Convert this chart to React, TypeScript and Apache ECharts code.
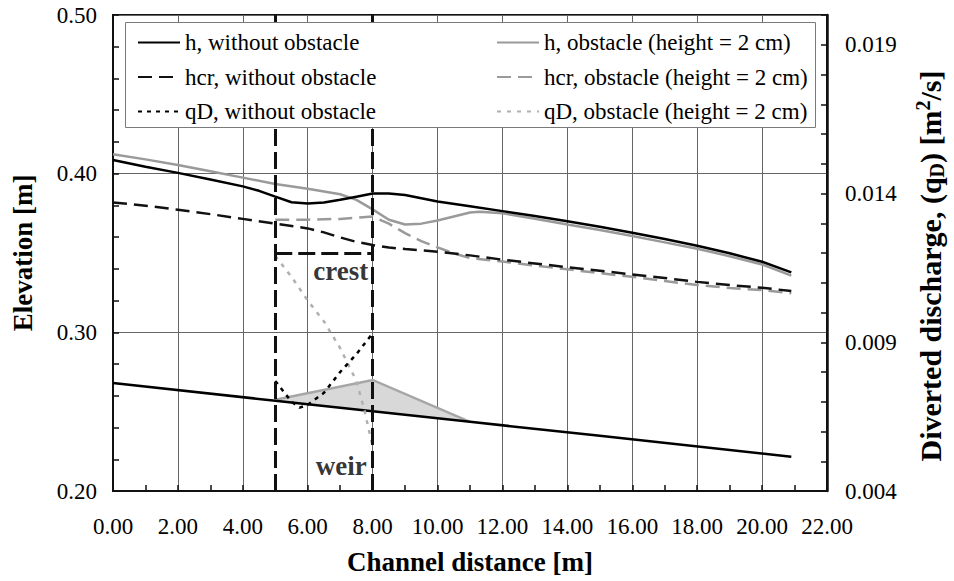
import React, { useEffect, useRef } from 'react';
import * as echarts from 'echarts';

const FONT = "'Liberation Serif', serif";

// Axis ranges
const distRange = [0, 22];
const elevRange = [0.2, 0.5];
const qRange = [0.004, 0.02];
const qLabelValues = [0.004, 0.009, 0.014, 0.019];

// Series names
const names = [
  'h, without obstacle',
  'hcr, without obstacle',
  'qD, without obstacle',
  'h, obstacle (height = 2 cm)',
  'hcr, obstacle (height = 2 cm)',
  'qD, obstacle (height = 2 cm)',
];

// Water level without obstacle
const hNoX = [0, 1, 2, 3, 4, 4.5, 5, 5.5, 6, 6.5, 7, 7.5, 8, 8.5, 9, 10, 11, 12, 13, 14, 15, 16, 17, 18, 19, 20, 20.9];
const hNoY = [0.4086, 0.4043, 0.4005, 0.3963, 0.392, 0.3892, 0.3855, 0.382, 0.3812, 0.3818, 0.3835, 0.3855, 0.3875, 0.3875, 0.3865, 0.3825, 0.3795, 0.3764, 0.3733, 0.370, 0.3665, 0.3628, 0.3588, 0.3546, 0.3498, 0.3445, 0.3378];

// Water level with obstacle
const hObsX = [0, 1, 2, 3, 4, 5, 6, 7, 7.5, 8, 8.5, 9, 9.5, 10, 10.5, 11, 11.3, 12, 13, 14, 15, 16, 17, 18, 19, 20, 20.9];
const hObsY = [0.4123, 0.409, 0.4055, 0.4015, 0.3975, 0.3935, 0.3905, 0.387, 0.3835, 0.3775, 0.371, 0.368, 0.3685, 0.3705, 0.373, 0.3755, 0.376, 0.375, 0.3716, 0.368, 0.3645, 0.3607, 0.3567, 0.3527, 0.348, 0.3428, 0.3357];

// Critical depth without obstacle
const hcrNoX = [0, 1, 2, 3, 4, 5, 6, 6.5, 7, 7.5, 8, 8.5, 9, 10, 11, 12, 13, 14, 15, 16, 17, 18, 19, 20, 20.9];
const hcrNoY = [0.3819, 0.3798, 0.3773, 0.3745, 0.3715, 0.3685, 0.3655, 0.363, 0.3598, 0.357, 0.355, 0.3535, 0.3525, 0.3508, 0.3485, 0.3458, 0.3434, 0.341, 0.3388, 0.3365, 0.3342, 0.3318, 0.3298, 0.3281, 0.326];

// Critical depth with obstacle
const hcrObsX = [5, 6, 7, 7.5, 8, 8.5, 9, 9.5, 10, 10.5, 11, 12, 13, 14, 15, 16, 17, 18, 19, 20, 20.9];
const hcrObsY = [0.371, 0.371, 0.3715, 0.3722, 0.373, 0.3685, 0.3625, 0.3575, 0.3535, 0.3498, 0.3468, 0.3446, 0.3421, 0.3397, 0.3373, 0.335, 0.3323, 0.3298, 0.328, 0.3266, 0.3246];

// Diverted discharge (right axis)
const qdNoX = [5, 5.5, 5.75, 6, 6.5, 7, 7.5, 8];
const qdNoY = [0.0077, 0.007, 0.0068, 0.0069, 0.0073, 0.008, 0.0086, 0.0093];
const qdObsX = [5, 5.5, 6, 6.5, 7, 7.5, 7.75, 8];
const qdObsY = [0.0119, 0.0112, 0.0104, 0.0097, 0.0088, 0.0077, 0.0067, 0.0055];

// Channel bed
const bedX = [0, 5, 8, 11, 15, 20.9];
const bedY = [0.268, 0.2569, 0.2502, 0.2436, 0.2348, 0.2216];

// Weir (obstacle)
const weirX = [5, 8, 11];
const weirTop = [0.2575, 0.27, 0.2436];
const weirBase = [0.2569, 0.2502, 0.2436];

// Crest box
const crestX = [5, 8];
const crestLevel = 0.35;

// Annotations
const noteText = ['crest', 'weir'];
const noteX = [7.02, 7.03];
const noteY = [0.3386, 0.2158];

const zip = (xs: number[], ys: number[]) => xs.map((x, i) => [x, ys[i]]);

const GRAY = '#9a9a9a';
const LIGHT = '#b0b0b0';

export default function App() {
  const ref = useRef<HTMLDivElement>(null);

  useEffect(() => {
    if (!ref.current) return;
    const chart = echarts.init(ref.current, undefined, { renderer: 'svg' });

    const lineBase = (name: string, xs: number[], ys: number[], color: string, type: any, width: number, yAxisIndex = 0, z = 2) => ({
      name,
      type: 'line',
      yAxisIndex,
      data: zip(xs, ys),
      symbol: 'none',
      showSymbol: false,
      z,
      lineStyle: { color, width, type },
      itemStyle: { color },
    });

    const legendCommon = {
      orient: 'vertical',
      top: 31,
      padding: 0,
      itemGap: 11.5,
      itemWidth: 42,
      itemHeight: 14,
      z: 20,
      itemStyle: { color: 'transparent', borderColor: 'transparent', borderWidth: 0, opacity: 0 },
      textStyle: { fontFamily: FONT, fontSize: 23, color: '#000' },
    };

    const option: any = {
      animation: false,
      backgroundColor: '#fff',
      textStyle: { fontFamily: FONT },
      grid: {
        left: 113,
        right: 127,
        top: 15,
        bottom: 90,
        show: true,
        borderColor: '#111',
        borderWidth: 2,
        backgroundColor: 'transparent',
      },
      legend: [
        { ...legendCommon, data: names.slice(0, 3), left: 137 },
        { ...legendCommon, data: names.slice(3, 6), left: 496 },
      ],
      graphic: [
        {
          type: 'rect',
          z: 10,
          shape: { x: 125.5, y: 22.5, width: 690, height: 105 },
          style: { fill: '#fff', stroke: '#7a7a7a', lineWidth: 1 },
        },
        {
          type: 'text',
          z: 10,
          x: 930,
          y: 266,
          rotation: Math.PI / 2,
          style: {
            text: '{b|Diverted discharge, (q}{s|D}{b|) [m}{p|2}{b|/s]}',
            align: 'center',
            verticalAlign: 'middle',
            fill: '#000',
            rich: {
              b: { fontFamily: FONT, fontSize: 30, fontWeight: 'bold', fill: '#000', lineHeight: 34 },
              s: { fontFamily: FONT, fontSize: 20, fontWeight: 'bold', fill: '#000', verticalAlign: 'bottom', lineHeight: 34 },
              p: { fontFamily: FONT, fontSize: 20, fontWeight: 'bold', fill: '#000', verticalAlign: 'top', lineHeight: 34 },
            },
          },
        },
      ],
      xAxis: {
        type: 'value',
        min: distRange[0],
        max: distRange[1],
        interval: 2,
        name: 'Channel distance [m]',
        nameLocation: 'middle',
        nameGap: 57,
        nameTextStyle: { fontFamily: FONT, fontSize: 27, fontWeight: 'bold', color: '#000' },
        axisLine: { show: true, lineStyle: { color: '#111', width: 2 } },
        axisTick: { show: true, inside: true, length: 6, lineStyle: { color: '#111', width: 1.5 } },
        minorTick: { show: true, splitNumber: 2, length: 6, lineStyle: { color: '#111', width: 1.5 } },
        axisLabel: {
          margin: 24,
          fontFamily: FONT,
          fontSize: 23,
          color: '#000',
          formatter: (v: number) => v.toFixed(2),
        },
        splitLine: { show: true, lineStyle: { color: '#666', width: 1 } },
      },
      yAxis: [
        {
          type: 'value',
          min: elevRange[0],
          max: elevRange[1],
          interval: 0.1,
          name: 'Elevation [m]',
          nameLocation: 'middle',
          nameGap: 77,
          nameTextStyle: { fontFamily: FONT, fontSize: 27, fontWeight: 'bold', color: '#000' },
          axisLine: { show: true, lineStyle: { color: '#111', width: 2 } },
          axisTick: { show: true, inside: true, length: 6, lineStyle: { color: '#111', width: 1.5 } },
          minorTick: { show: true, splitNumber: 5, length: 6, lineStyle: { color: '#111', width: 1.5 } },
          axisLabel: {
            margin: 16,
            fontFamily: FONT,
            fontSize: 23,
            color: '#000',
            formatter: (v: number) => v.toFixed(2),
          },
          splitLine: { show: true, lineStyle: { color: '#666', width: 1 } },
        },
        {
          type: 'value',
          min: qRange[0],
          max: qRange[1],
          interval: 0.005,
          position: 'right',
          axisLine: { show: true, lineStyle: { color: '#111', width: 2.5 } },
          axisTick: { show: true, inside: true, length: 6, lineStyle: { color: '#111', width: 1.5 } },
          minorTick: { show: true, splitNumber: 5, length: 6, lineStyle: { color: '#111', width: 1.5 } },
          axisLabel: {
            margin: 18,
            fontFamily: FONT,
            fontSize: 23,
            color: '#000',
            showMaxLabel: false,
            formatter: (v: number) =>
              qLabelValues.some((q) => Math.abs(q - v) < 1e-6) ? v.toFixed(3) : '',
          },
          splitLine: { show: false },
        },
      ],
      series: [
        {
          name: 'weir',
          type: 'custom',
          z: 1,
          data: [[weirX[1], weirTop[1]]],
          encode: { x: 0, y: 1 },
          silent: true,
          renderItem: (_params: any, api: any) => {
            const top = weirX.map((x, i) => api.coord([x, weirTop[i]]));
            const base = weirX.map((x, i) => api.coord([x, weirBase[i]])).reverse();
            return {
              type: 'group',
              children: [
                {
                  type: 'polygon',
                  shape: { points: top.concat(base) },
                  style: { fill: '#d8d8d8', stroke: 'none' },
                },
                {
                  type: 'polyline',
                  shape: { points: top },
                  style: { stroke: '#a6a6a6', lineWidth: 2.5, fill: 'none' },
                },
              ],
            };
          },
        },
        {
          ...lineBase('bed', bedX, bedY, '#000', 'solid', 2.5),
          markLine: {
            silent: true,
            symbol: ['none', 'none'],
            label: { show: false },
            lineStyle: { color: '#111', width: 3, type: [17, 6] },
            data: [
              { xAxis: crestX[0] },
              { xAxis: crestX[1] },
              [{ coord: [crestX[0], crestLevel] }, { coord: [crestX[1], crestLevel] }],
            ],
          },
        },
        lineBase(names[3], hObsX, hObsY, GRAY, 'solid', 2.5),
        lineBase(names[4], hcrObsX, hcrObsY, GRAY, [14, 7], 2.5),
        lineBase(names[5], qdObsX, qdObsY, LIGHT, [4, 6], 2.5, 1),
        lineBase(names[0], hNoX, hNoY, '#000', 'solid', 2.5),
        lineBase(names[1], hcrNoX, hcrNoY, '#111', [14, 7], 2.5),
        lineBase(names[2], qdNoX, qdNoY, '#000', [4, 5], 2.5, 1),
        {
          name: 'notes',
          type: 'scatter',
          data: noteX.map((x, i) => ({ value: [x, noteY[i]], name: noteText[i] })),
          symbolSize: 1,
          itemStyle: { color: 'transparent' },
          silent: true,
          label: {
            show: true,
            position: 'inside',
            formatter: (p: any) => p.name,
            fontFamily: FONT,
            fontSize: 27,
            fontWeight: 'bold',
            color: '#000',
          },
        },
      ],
    };

    chart.setOption(option);
    return () => chart.dispose();
  }, []);

  return (
    <div
      ref={ref}
      style={{ position: 'fixed', left: 0, top: 0, width: 954, height: 581, background: '#fff' }}
    />
  );
}
